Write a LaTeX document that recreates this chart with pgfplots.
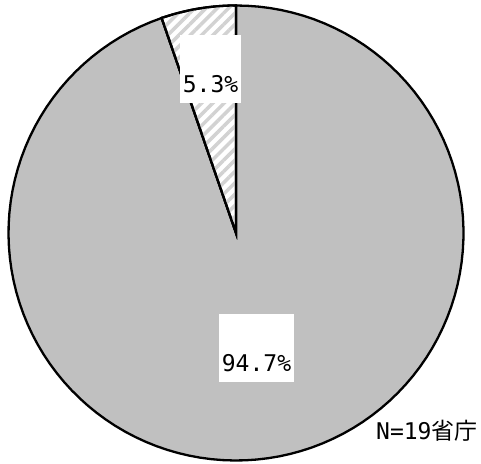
\documentclass[border=0pt]{standalone}
\usepackage{fontspec}
\setmainfont{DejaVu Sans Mono}
\newfontfamily\cjk{Noto Sans CJK JP}
\usepackage{pgfplots}
\pgfplotsset{compat=1.18}
\usetikzlibrary{patterns.meta}
\definecolor{pieGrey}{RGB}{192,192,192}
\definecolor{hatchGrey}{RGB}{210,210,210}
% data (percent)
\newcommand\valA{5.3}
\newcommand\valB{94.7}
\pgfmathsetmacro\angA{90+3.6*\valA}
\newcommand\cx{236}
\newcommand\cy{230}
\newcommand\rr{227.5}
\begin{document}
\begin{tikzpicture}
\begin{axis}[
  width=481pt, height=463pt, scale only axis,
  xmin=0, xmax=481, ymin=0, ymax=463,
  hide axis, clip=false,
]
\path[draw=none] (axis cs:0,0) rectangle (axis cs:481,463);
% large slice
\addplot[draw=black, line width=2.3pt, fill=pieGrey, domain=\angA:450, samples=120]
  ({\cx+\rr*cos(x)},{\cy+\rr*sin(x)}) -- (axis cs:\cx,\cy) -- cycle;
% small hatched slice
\addplot[draw=black, line width=2.3pt, fill=white,
  postaction={pattern={Lines[angle=45,distance=8pt,line width=3.5pt]}, pattern color=hatchGrey},
  domain=90:\angA, samples=20]
  ({\cx+\rr*cos(x)},{\cy+\rr*sin(x)}) -- (axis cs:\cx,\cy) -- cycle;
% labels
\node[fill=white, inner sep=0pt, minimum width=61pt, text height=58pt, text depth=10pt,
  anchor=base, font=\fontsize{23}{26}\selectfont] at (axis cs:210.5,370) {5.3\%};
\node[fill=white, inner sep=0pt, minimum width=75pt, text height=57pt, text depth=11pt,
  anchor=base, font=\fontsize{23}{26}\selectfont] at (axis cs:256.5,92) {94.7\%};
\node[inner sep=0pt, anchor=base west, font=\fontsize{23}{26}\selectfont]
  at (axis cs:376,24) {N=19{\cjk 省庁}};
\end{axis}
\end{tikzpicture}
\end{document}
